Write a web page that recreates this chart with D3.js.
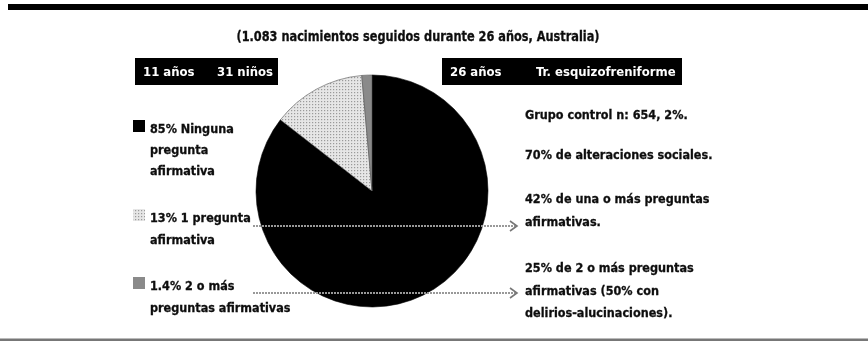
<!DOCTYPE html>
<html>
<head>
<meta charset="utf-8">
<script src="https://cdn.jsdelivr.net/npm/d3@7"></script>
<style>
  html, body { margin: 0; padding: 0; background: #fff; }
  svg text { font-family: "DejaVu Sans Condensed", "Liberation Sans Narrow", "Roboto", sans-serif; font-weight: bold; }
</style>
</head>
<body>
<svg id="chart" width="868" height="342"></svg>
<script>
// Slices of the pie (share of 11-year-olds by number of affirmative answers)
const categories = ["Ninguna pregunta afirmativa", "1 pregunta afirmativa", "2 o más preguntas afirmativas"];
const values = [85, 13, 1.4];
const fills = ["#000000", "url(#dots)", "#8a8a8a"];

// Legend text lines, one array per slice
const legendLines = [
  ["85% Ninguna", "pregunta", "afirmativa"],
  ["13% 1 pregunta", "afirmativa"],
  ["1.4% 2 o más", "preguntas afirmativas"]
];

// Outcome notes at age 26
const notes = [
  ["Grupo control n: 654, 2%."],
  ["70% de alteraciones sociales."],
  ["42% de una o más preguntas", "afirmativas."],
  ["25% de 2 o más preguntas", "afirmativas (50% con", "delirios-alucinaciones)."]
];

const title = "(1.083 nacimientos seguidos durante 26 años, Australia)";
const headerLeft = ["11 años", "31 niños"];
const headerRight = ["26 años", "Tr. esquizofreniforme"];

const svg = d3.select("#chart");

// Dotted fill for the light slice, slight softening for print-like look
const defs = svg.append("defs");
const pat = defs.append("pattern").attr("id", "dots")
  .attr("width", 3).attr("height", 3).attr("patternUnits", "userSpaceOnUse");
pat.append("rect").attr("width", 3).attr("height", 3).attr("fill", "#e6e6e6");
pat.append("rect").attr("width", 1.2).attr("height", 1.2).attr("fill", "#9a9a9a");
defs.append("filter").attr("id", "soft")
  .append("feGaussianBlur").attr("stdDeviation", 0.45);

const root = svg.append("g").attr("filter", "url(#soft)");

// Frame rules
root.append("rect").attr("x", 8).attr("y", 4).attr("width", 860).attr("height", 6).attr("fill", "#000");
root.append("rect").attr("x", 0).attr("y", 338.5).attr("width", 868).attr("height", 2.5).attr("fill", "#777");

// Title
root.append("text").attr("x", 418).attr("y", 41).attr("text-anchor", "middle")
  .attr("font-size", 13.5).attr("fill", "#111").attr("stroke", "#111").attr("stroke-width", 0.3)
  .attr("textLength", 363).attr("lengthAdjust", "spacingAndGlyphs").text(title);

// Header boxes
function header(x, w, labels, offsets) {
  root.append("rect").attr("x", x).attr("y", 58).attr("width", w).attr("height", 27).attr("fill", "#000");
  labels.forEach((t, i) => {
    root.append("text").attr("x", x + offsets[i]).attr("y", 76)
      .attr("font-size", 13).attr("fill", "#fff").text(t);
  });
}
header(135, 143, headerLeft, [8, 82]);
header(442, 240, headerRight, [8, 94]);

// Pie
const cx = 372, cy = 191, r = 116;
const pie = d3.pie().sort(null).value(d => d)(values);
const arc = d3.arc().innerRadius(0).outerRadius(r);
const g = root.append("g").attr("transform", `translate(${cx},${cy})`);
g.selectAll("path").data(pie).join("path")
  .attr("d", arc)
  .attr("fill", (d, i) => fills[i])
  .attr("stroke", (d, i) => i === 0 ? "#000" : "#555")
  .attr("stroke-width", 0.6);

// Legend
const legendY = [130, 219, 287];
const lineGap = [21, 22, 22];
legendLines.forEach((lines, i) => {
  root.append("rect").attr("x", 133).attr("y", legendY[i] - 10)
    .attr("width", 12).attr("height", 12).attr("fill", fills[i]);
  lines.forEach((t, j) => {
    root.append("text").attr("x", 150).attr("y", legendY[i] + 3 + j * lineGap[i])
      .attr("font-size", 12.5).attr("fill", "#111").attr("stroke", "#111").attr("stroke-width", 0.3)
      .text(t);
  });
});

// Notes on the right
const noteY = [119, 159, 203, 272];
notes.forEach((lines, i) => {
  lines.forEach((t, j) => {
    root.append("text").attr("x", 525).attr("y", noteY[i] + j * 22.5)
      .attr("font-size", 12.5).attr("fill", "#111").attr("stroke", "#111").attr("stroke-width", 0.3)
      .text(t);
  });
});

// Connector arrows from the legend to the notes
const arrows = [{ y: 226, x0: 253, x1: 517 }, { y: 293, x0: 253, x1: 517 }];
arrows.forEach(a => {
  root.append("line").attr("x1", a.x0).attr("x2", a.x1).attr("y1", a.y).attr("y2", a.y)
    .attr("stroke", "#999").attr("stroke-width", 2.2).attr("stroke-dasharray", "2,1");
  root.append("path")
    .attr("d", `M${a.x1 - 7},${a.y - 5} L${a.x1},${a.y} L${a.x1 - 7},${a.y + 5}`)
    .attr("fill", "none").attr("stroke", "#777").attr("stroke-width", 1.6);
});
</script>
</body>
</html>
